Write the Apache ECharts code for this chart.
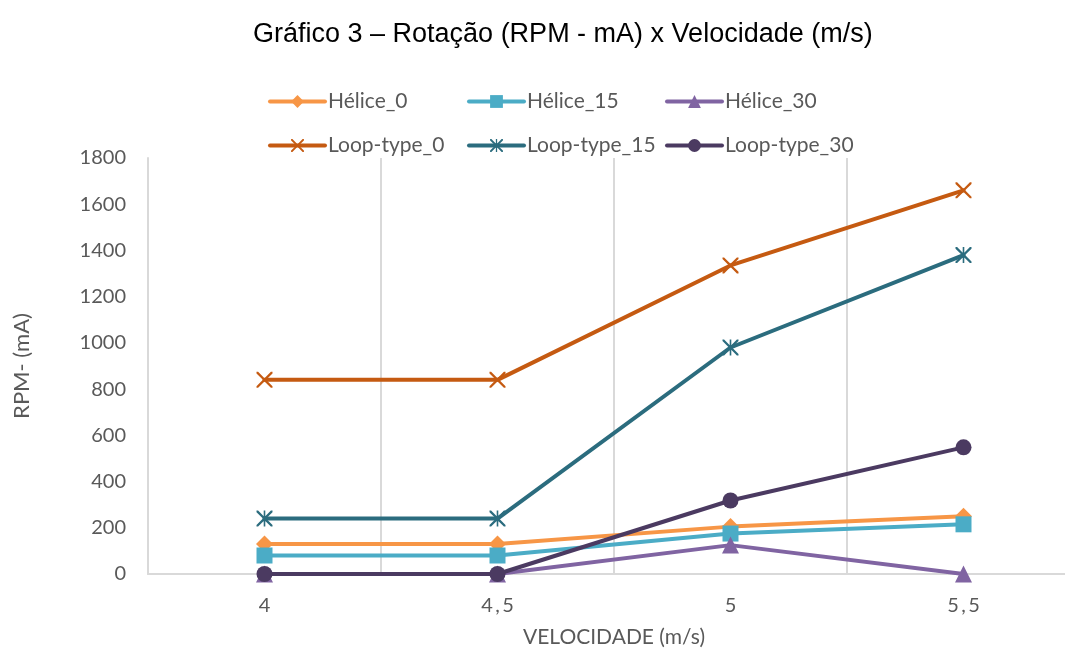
<!DOCTYPE html>
<html>
<head>
<meta charset="utf-8">
<script src="https://cdn.jsdelivr.net/npm/echarts@6/dist/echarts.min.js"></script>
<style>
  html, body { margin: 0; padding: 0; background: #fff; }
  #chart { width: 1065px; height: 648px; }
</style>
</head>
<body>
<div id="chart"></div>
<script>
// Velocidade (m/s) categories
const categories = ['4', '4,5', '5', '5,5'];

// Rotação (RPM - mA) per propeller type and angle
const helice0 = [130, 130, 205, 250];
const helice15 = [80, 80, 175, 215];
const helice30 = [0, 0, 125, 0];
const loop0 = [840, 840, 1335, 1660];
const loop15 = [240, 240, 980, 1380];
const loop30 = [0, 0, 318, 548];

const yTicks = { min: 0, max: 1800, interval: 200 };

// Marker outlines: a thin X, and an X with a vertical bar (asterisk)
const crossPath = 'path://M0,0L2,0L10,8L18,0L20,0L20,2L12,10L20,18L20,20L18,20L10,12L2,20L0,20L0,18L8,10L0,2Z';
const starPath = 'path://M0,0L2,0L10,8L18,0L20,0L20,2L12,10L20,18L20,20L18,20L10,12L2,20L0,20L0,18L8,10L0,2Z M9,0L11,0L11,20L9,20Z';

const seriesDefs = [
  { name: 'Hélice_0', data: helice0, color: '#F79646', symbol: 'diamond', size: 17 },
  { name: 'Hélice_15', data: helice15, color: '#4BACC6', symbol: 'rect', size: 16 },
  { name: 'Hélice_30', data: helice30, color: '#8064A2', symbol: 'triangle', size: 17 },
  { name: 'Loop-type_0', data: loop0, color: '#C55A11', symbol: crossPath, size: 16 },
  { name: 'Loop-type_15', data: loop15, color: '#2B6C7E', symbol: starPath, size: 16 },
  { name: 'Loop-type_30', data: loop30, color: '#4B3A61', symbol: 'circle', size: 16 }
];

const textGray = '#595959';
const uiFont = 'Lato, "Open Sans", sans-serif';

// Legend laid out as a 3 x 2 table: one legend component per entry
const legendCols = [268, 467, 665];
const legendRows = [91, 135];
const legends = seriesDefs.map((s, i) => ({
  left: legendCols[i % 3],
  top: legendRows[Math.floor(i / 3)],
  padding: 0,
  itemWidth: 55,
  itemHeight: 16,
  itemGap: 0,
  data: [s.name],
  lineStyle: { width: 4 },
  textStyle: { fontFamily: uiFont, fontSize: 21, color: textGray, padding: [0, 0, 0, -2] }
}));

const chart = echarts.init(document.getElementById('chart'), null, { renderer: 'canvas' });
chart.setOption({
  animation: false,
  backgroundColor: '#ffffff',
  title: {
    text: 'Gráfico 3 – Rotação (RPM - mA) x Velocidade (m/s)',
    left: 248,
    top: 16,
    textStyle: { fontFamily: '"Liberation Sans", Arial, sans-serif', fontSize: 27, fontWeight: 'normal', color: '#000000' }
  },
  legend: legends,
  grid: { left: 148, right: -15, top: 158, bottom: 74, containLabel: false, outerBoundsMode: 'none' },
  xAxis: {
    type: 'category',
    data: categories,
    boundaryGap: true,
    name: 'VELOCIDADE (m/s)',
    nameLocation: 'middle',
    nameGap: 53,
    nameTextStyle: { fontFamily: uiFont, fontSize: 21, color: textGray },
    axisLine: { lineStyle: { color: '#D9D9D9', width: 2 } },
    axisTick: { show: false },
    axisLabel: {
      margin: 22,
      fontFamily: uiFont,
      fontSize: 20,
      color: textGray,
      formatter: v => v.split('').join('\u2009')
    },
    splitLine: { show: true, lineStyle: { color: '#D9D9D9', width: 2 } }
  },
  yAxis: {
    type: 'value',
    min: yTicks.min,
    max: yTicks.max,
    interval: yTicks.interval,
    name: 'RPM- (mA)',
    nameLocation: 'middle',
    nameRotate: 90,
    nameGap: 115,
    nameTextStyle: { fontFamily: uiFont, fontSize: 22, color: textGray },
    axisLine: { show: true, lineStyle: { color: '#D9D9D9', width: 2 } },
    axisTick: { show: false },
    axisLabel: { margin: 22, fontFamily: uiFont, fontSize: 20, color: textGray, formatter: v => String(v) },
    splitLine: { show: false }
  },
  series: seriesDefs.map(s => ({
    name: s.name,
    type: 'line',
    data: s.data,
    symbol: s.symbol,
    symbolSize: s.size,
    showAllSymbol: true,
    color: s.color,
    lineStyle: { color: s.color, width: 4, cap: 'round', join: 'round' },
    itemStyle: { color: s.color, borderWidth: 0 },
    emphasis: { disabled: true }
  }))
});
</script>
</body>
</html>
